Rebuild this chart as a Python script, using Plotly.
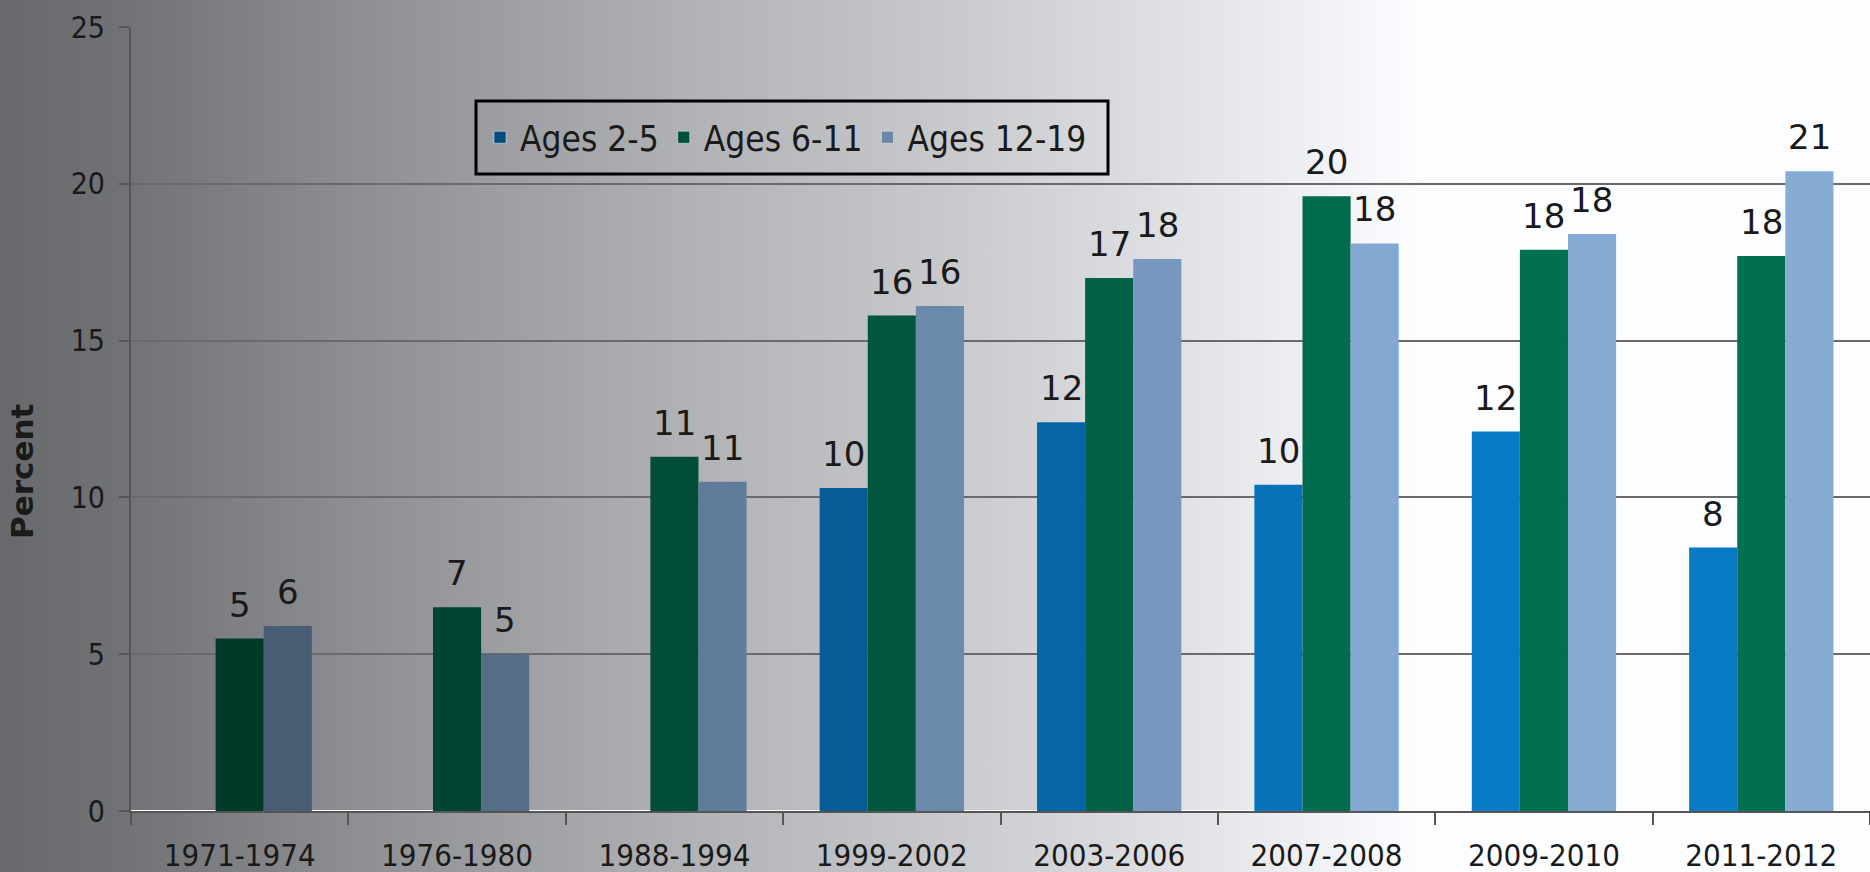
import urllib.parse
import plotly.graph_objects as go

categories = ["1971-1974", "1976-1980", "1988-1994", "1999-2002",
              "2003-2006", "2007-2008", "2009-2010", "2011-2012"]
series_names = ["Ages 2-5", "Ages 6-11", "Ages 12-19"]
ages_2_5 = [None, None, None, 10.3, 12.4, 10.4, 12.1, 8.4]
ages_6_11 = [5.5, 6.5, 11.3, 15.8, 17.0, 19.6, 17.9, 17.7]
ages_12_19 = [5.9, 5.0, 10.5, 16.1, 17.6, 18.1, 18.4, 20.4]
labels_2_5 = ["", "", "", "10", "12", "10", "12", "8"]
labels_6_11 = ["5", "7", "11", "16", "17", "20", "18", "18"]
labels_12_19 = ["6", "5", "11", "16", "18", "18", "18", "21"]

W, H = 1870, 872
L, T, B = 131, 27, 61
PW, PH = W - L, H - T - B
base_colors = [(8, 122, 196), (0, 112, 80), (134, 172, 214)]

# background brightness profile (x px -> factor)
stops = [(0, 0.42), (131, 0.46), (374, 0.58), (700, 0.71), (935, 0.795),
         (1120, 0.87), (1310, 0.95), (1420, 1.0), (1870, 1.0)]


def bright(x):
    for (x0, f0), (x1, f1) in zip(stops[:-1], stops[1:]):
        if x0 <= x <= x1:
            return f0 + (f1 - f0) * (x - x0) / (x1 - x0)
    return 1.0


def shade(rgb, x):
    f = bright(x)
    return "rgb(%d,%d,%d)" % tuple(int(round(c * f)) for c in rgb)


cat_w = PW / len(categories)
bar_w = 48

grad_stops = "".join(
    '<stop offset="%.4f" stop-color="rgb(%d,%d,%d)"/>' % (
        x / W, max(0, int(255 * f) - 3), max(0, int(255 * f) - 2), min(255, int(255 * f) + 1))
    for x, f in stops)
svg = ('<svg xmlns="http://www.w3.org/2000/svg" width="%d" height="%d">'
       '<defs><linearGradient id="g" x1="0" y1="0" x2="1" y2="0">%s</linearGradient></defs>'
       '<rect width="%d" height="%d" fill="url(#g)"/></svg>') % (W, H, grad_stops, W, H)
svg_uri = "data:image/svg+xml;charset=utf-8," + urllib.parse.quote(svg)

fig = go.Figure()
data = [ages_2_5, ages_6_11, ages_12_19]
labels = [labels_2_5, labels_6_11, labels_12_19]
annotations = []
for s, (name, vals, labs) in enumerate(zip(series_names, data, labels)):
    cols = [shade(base_colors[s], L + cat_w * (i + 0.5) + (s - 1) * bar_w)
            for i in range(len(categories))]
    fig.add_trace(go.Bar(
        x=categories, y=vals, name=name, offsetgroup=str(s),
        marker=dict(color=cols, line=dict(width=0)),
        showlegend=False, hoverinfo="skip"))
    for c, v, lab in zip(categories, vals, labs):
        if v is None or not lab:
            continue
        annotations.append(dict(
            x=c, y=v, xref="x", yref="y", text=lab, showarrow=False,
            xanchor="center", yanchor="bottom", xshift=(s - 1) * bar_w, yshift=12,
            font=dict(family="DejaVu Sans", size=34, color="#1a1a1a")))

legend_x = [510, 700, 900]
for s, name in enumerate(series_names):
    fig.add_trace(go.Bar(
        x=[categories[0]], y=[None], name=name, offsetgroup=str(s),
        marker=dict(color=shade(base_colors[s], legend_x[s])),
        showlegend=True))

annotations.append(dict(
    x=-(L - 22) / PW, y=(811 - 471) / PH, xref="paper", yref="paper",
    text="<b>Percent</b>", textangle=-90, showarrow=False,
    xanchor="center", yanchor="middle",
    font=dict(family="DejaVu Sans", size=31, color="#1a1a1a")))

# legend frame (pixel box 476..1108 x 101..174)
shapes = [dict(type="rect", xref="paper", yref="paper",
               x0=(476 - L) / PW, x1=(1108 - L) / PW,
               y0=(811 - 174) / PH, y1=(811 - 101) / PH,
               line=dict(color="black", width=3), fillcolor="rgba(0,0,0,0)",
               layer="above")]

fig.update_layout(
    width=W, height=H,
    margin=dict(l=L, r=0, t=T, b=B, autoexpand=False),
    paper_bgcolor="white",
    plot_bgcolor="rgba(0,0,0,0)",
    barmode="group", bargap=0.336, bargroupgap=0,
    font=dict(family="DejaVu Sans Condensed", color="#1a1a1a"),
    annotations=annotations,
    shapes=shapes,
    images=[dict(source=svg_uri, xref="paper", yref="paper",
                 x=-L / PW, y=1 + T / PH,
                 sizex=W / PW, sizey=H / PH,
                 xanchor="left", yanchor="top", sizing="stretch", layer="below")],
    legend=dict(orientation="h", x=(480 - L) / PW, y=(811 - 137.5) / PH,
                xanchor="left", yanchor="middle",
                bgcolor="rgba(0,0,0,0)", borderwidth=0,
                font=dict(family="DejaVu Sans Condensed", size=35, color="#1a1a1a"),
                itemwidth=30, tracegroupgap=0),
    xaxis=dict(showline=True, linecolor="#555555", linewidth=2,
               ticks="outside", tickson="boundaries", ticklen=12,
               tickcolor="#555555", tickwidth=2, automargin=False,
               tickfont=dict(family="DejaVu Sans Condensed", size=31, color="#1a1a1a"),
               ticklabelstandoff=16, showgrid=False),
    yaxis=dict(range=[0, 25], dtick=5, showline=True, linecolor="#555555", linewidth=2,
               ticks="outside", ticklen=10, tickcolor="#555555", tickwidth=2,
               gridcolor="#6a6a6a", gridwidth=2, automargin=False,
               tickfont=dict(family="DejaVu Sans Condensed", size=30, color="#1a1a1a"),
               ticklabelstandoff=8),
)

fig.write_html("out.html", config={"displayModeBar": False},
               post_script="document.body.style.margin='0';")
